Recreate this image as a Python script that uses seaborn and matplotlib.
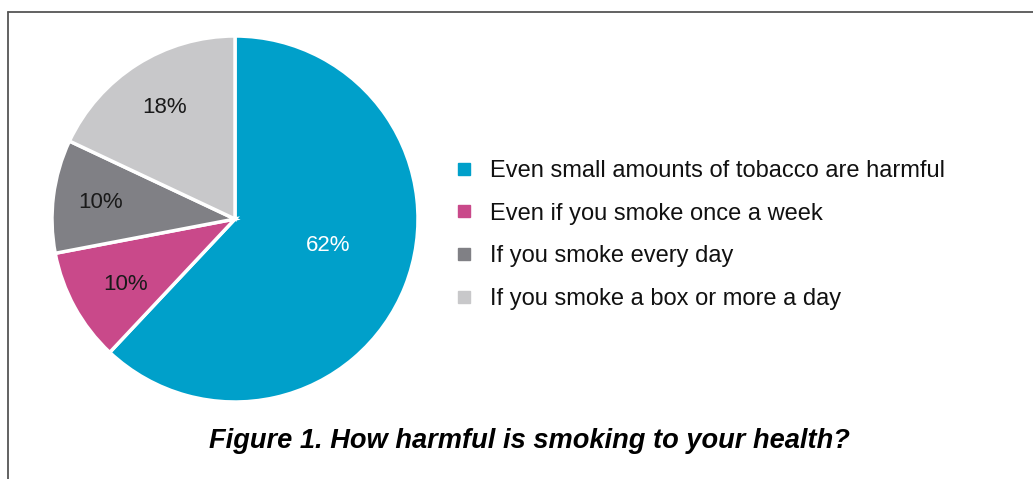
import numpy as np
import matplotlib
matplotlib.use("Agg")
import matplotlib.pyplot as plt
import seaborn as sns
from matplotlib.lines import Line2D

sns.set_theme(style="white")
plt.rcParams['font.family'] = ['Liberation Sans', 'DejaVu Sans']

categories = ["Even small amounts of tobacco are harmful",
              "Even if you smoke once a week",
              "If you smoke every day",
              "If you smoke a box or more a day"]
values = [62, 10, 10, 18]
colors = ["#00A0CA", "#C9498A", "#808085", "#C8C8CA"]
label_colors = ["white", "#1a1a1a", "#1a1a1a", "#1a1a1a"]
label_dist = [0.55, 0.68, 0.74, 0.72]
label_dy = [0.055, -0.03, 0.0, 0.0]
title = "Figure 1. How harmful is smoking to your health?"

W, H = 1033, 479
fig = plt.figure(figsize=(W / 100, H / 100), dpi=100)
fig.patch.set_facecolor("white")

cx, cy, r = 235, 219, 183
ax = fig.add_axes([(cx - r) / W, 1 - (cy + r) / H, 2 * r / W, 2 * r / H])
wedges, _ = ax.pie(values, colors=colors, startangle=90, counterclock=False,
                   radius=1.0,
                   wedgeprops=dict(edgecolor="white", linewidth=2.5))
ax.set_xlim(-1, 1)
ax.set_ylim(-1, 1)
ax.set_aspect("equal")
ax.axis("off")

total = sum(values)
for w, v, d, dy, c in zip(wedges, values, label_dist, label_dy, label_colors):
    ang = np.deg2rad((w.theta1 + w.theta2) / 2)
    ax.text(d * np.cos(ang), d * np.sin(ang) + dy, f"{round(100 * v / total)}%",
            ha="center", va="center", fontsize=16, color=c)

handles = [Line2D([], [], marker="s", linestyle="none", markersize=9,
                  markerfacecolor=c, markeredgecolor=c) for c in colors]
fig.legend(handles, categories, loc="center left",
           bbox_to_anchor=(454.5 / W, 1 - 235 / H), frameon=False,
           fontsize=17, handlelength=0.8, handletextpad=0.7,
           labelspacing=0.88, borderpad=0, borderaxespad=0,
           labelcolor="#111111")

fig.text(529 / W, 1 - 441 / H, title, ha="center", va="center",
         fontsize=19.6, fontweight="bold", fontstyle="italic", color="black")

# outer frame (left and top edges visible)
fig.add_artist(Line2D([7.5 / W, 7.5 / W], [0, 1 - 12 / H], transform=fig.transFigure,
                      color="#555555", lw=1.3))
fig.add_artist(Line2D([7.5 / W, 1], [1 - 12 / H, 1 - 12 / H], transform=fig.transFigure,
                      color="#555555", lw=1.3))

fig.savefig("out.png", dpi=100)
